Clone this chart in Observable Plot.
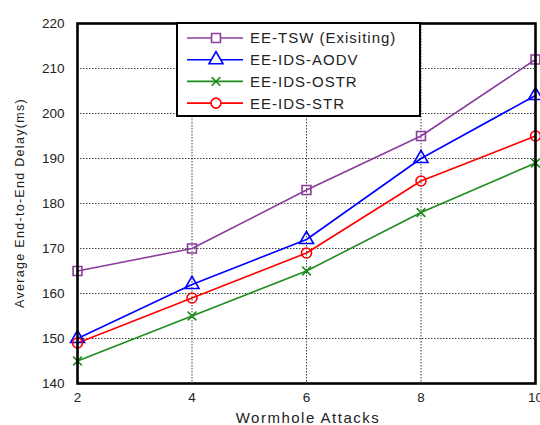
<!DOCTYPE html>
<html><head><meta charset="utf-8">
<script src="https://cdn.jsdelivr.net/npm/d3@7"></script>
<script src="https://cdn.jsdelivr.net/npm/@observablehq/plot@0.6"></script>
<style>
html,body{margin:0;padding:0;background:#fff;}
#chart{position:relative;width:540px;height:425px;}
</style></head>
<body><div id="chart"></div>
<script>
const attacks = [2, 4, 6, 8, 10];
const seriesNames = ["EE-TSW (Exisiting)", "EE-IDS-AODV", "EE-IDS-OSTR", "EE-IDS-STR"];
const tsw  = [165, 170, 183, 195, 212];
const aodv = [150, 162, 172, 190, 204];
const ostr = [145, 155, 165, 178, 189];
const str  = [149, 159, 169, 185, 195];
const yTicks = [140, 150, 160, 170, 180, 190, 200, 210, 220];
const xTicks = [2, 4, 6, 8, 10];
const xLabel = "Wormhole Attacks";
const yLabel = "Average End-to-End Delay(ms)";

const colors = ["#8A3D9C", "#0000FF", "#1E8C1E", "#FF0000"];
const symbols = ["square", "triangle", "times", "circle"];
const radii = [5, 5.2, 4, 5];
const values = [tsw, aodv, ostr, str];

const data = [];
seriesNames.forEach((s, i) => attacks.forEach((a, j) => data.push({series: s, x: a, y: values[i][j], r: radii[i]})));

const font = "Liberation Sans, Arial, sans-serif";
const W = 540, H = 425, mL = 77, mR = 5, mT = 23, mB = 42;
const chart = Plot.plot({
  width: W, height: H,
  marginLeft: mL, marginRight: mR, marginTop: mT, marginBottom: mB,
  style: {fontFamily: font, fontSize: "13.5px", color: "#222", background: "#fff", overflow: "visible"},
  x: {domain: [2, 10], ticks: xTicks, tickSize: 0, tickPadding: 9, label: null},
  y: {domain: [140, 220], ticks: yTicks, tickSize: 0, tickPadding: 13, label: null},
  color: {domain: seriesNames, range: colors},
  symbol: {domain: seriesNames, range: symbols},
  r: {type: "identity"},
  marks: [
    Plot.gridX(xTicks, {stroke: "#000", strokeOpacity: 0.75, strokeDasharray: "1.5,1.5"}),
    Plot.gridY(yTicks, {stroke: "#000", strokeOpacity: 0.75, strokeDasharray: "1.5,1.5"}),
    Plot.line(data, {x: "x", y: "y", z: "series", stroke: "series", strokeWidth: 1.6}),
    Plot.dot(data, {x: "x", y: "y", stroke: "series", symbol: "series", r: "r", strokeWidth: 1.6, fill: "none"}),
    Plot.frame({stroke: "#000", strokeWidth: 2.6})
  ]
});
document.getElementById("chart").appendChild(chart);

const svg = d3.select(chart);
// axis titles
svg.append("text").attr("x", (mL + W - mR) / 2 + 2).attr("y", 418).attr("dy", "0.36em")
  .attr("text-anchor", "middle").attr("font-family", font).attr("font-size", "15px")
  .attr("letter-spacing", "1.5px").attr("fill", "#222").text(xLabel);
svg.append("text").attr("transform", `translate(19,${203}) rotate(-90)`).attr("dy", "0.36em")
  .attr("text-anchor", "middle").attr("font-family", font).attr("font-size", "12.5px")
  .attr("letter-spacing", "1.3px").attr("fill", "#222").text(yLabel);

// Legend box
const lg = svg.append("g").attr("font-family", font).attr("font-size", "15px").attr("text-anchor", "start");
lg.append("rect").attr("x", 177).attr("y", 23).attr("width", 243).attr("height", 93)
  .attr("fill", "#fff").attr("stroke", "#000").attr("stroke-width", 2);
const symMap = {square: d3.symbolSquare, triangle: d3.symbolTriangle, times: d3.symbolTimes, circle: d3.symbolCircle};
seriesNames.forEach((s, i) => {
  const y = 38 + i * 21.7;
  lg.append("line").attr("x1", 187).attr("x2", 243).attr("y1", y).attr("y2", y)
    .attr("stroke", colors[i]).attr("stroke-width", 1.6);
  lg.append("path").attr("d", d3.symbol(symMap[symbols[i]], Math.PI * radii[i] * radii[i])())
    .attr("transform", `translate(216,${y})`)
    .attr("fill", "#fff").attr("stroke", colors[i]).attr("stroke-width", 1.6);
  lg.append("text").attr("x", 250).attr("y", y).attr("dy", "0.36em").attr("letter-spacing", "1px")
    .attr("fill", "#222").text(s);
});
</script></body></html>
